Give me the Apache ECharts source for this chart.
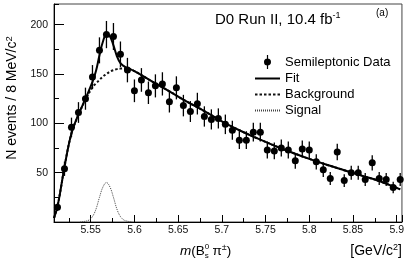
<!DOCTYPE html>
<html><head><meta charset="utf-8">
<script src="https://cdn.jsdelivr.net/npm/echarts@6/dist/echarts.min.js"></script>
<style>html,body{margin:0;padding:0;background:#fff}#c{width:407px;height:261px}</style>
</head><body><div id="c"></div>
<script>
// Data
const massBins = [5.512,5.520,5.528,5.536,5.544,5.552,5.560,5.568,5.576,5.584,
  5.592,5.600,5.608,5.616,5.624,5.632,5.640,5.648,5.656,5.664,
  5.672,5.680,5.688,5.696,5.704,5.712,5.720,5.728,5.736,5.744,
  5.752,5.760,5.768,5.776,5.784,5.792,5.800,5.808,5.816,5.824,
  5.832,5.840,5.848,5.856,5.864,5.872,5.880,5.888,5.896,5.904];
const counts = [15,54,96,111,125,147,174,190,188,170,
  154,133,144,131,138,140,122,136,118,112,
  120,107,104,105,99,93,83,83,91,91,
  73,72,75,73,62,74,73,61,53,44,
  71,42,50,50,43,60,44,43,35,43];
const countErrors = [3.9,7.3,9.8,10.5,11.2,12.1,13.2,13.8,13.7,13.0,
  12.4,11.5,12.0,11.4,11.7,11.8,11.0,11.7,10.9,10.6,
  11.0,10.3,10.2,10.2,9.9,9.6,9.1,9.1,9.5,9.5,
  8.5,8.5,8.7,8.5,7.9,8.6,8.5,7.8,7.3,6.6,
  8.4,6.5,7.1,7.1,6.6,7.7,6.6,6.6,5.9,6.6];
const fitX = [5.508,5.512,5.516,5.520,5.528,5.536,5.544,5.552,5.556,5.560,5.564,5.568,5.572,5.576,5.580,5.584,5.588,5.592,5.600,5.620,5.640,5.660,5.680,5.700,5.720,5.740,5.760,5.780,5.800,5.820,5.840,5.860,5.880,5.904];
const fitY = [4,16,35,56,90,109,125,142,153,169,183,190,188,179,168,161,158,156,153,142.5,132.5,122,112.5,102,93,85,77.5,70.5,64,58,52.5,47,41.5,33];
const bkgX = [5.508,5.512,5.516,5.520,5.528,5.536,5.544,5.552,5.556,5.560,5.564,5.568,5.572,5.576,5.580,5.584,5.588,5.592,5.600,5.620,5.640,5.660,5.680,5.700,5.720,5.740,5.760,5.780,5.800,5.820,5.840,5.860,5.880,5.904];
const bkgY = [4,16,35,56,90,108.5,124,136.5,140.5,144,147.5,150,152.5,154,155,155.5,155.8,155.6,153,142.5,132.5,122,112.5,102,93,85,77.5,70.5,64,58,52.5,47,41.5,33];
const sigX = [5.538,5.544,5.548,5.552,5.556,5.560,5.564,5.568,5.572,5.576,5.580,5.584,5.588,5.592,5.598];
const sigY = [0,0.8,2,5.5,13,25,35.5,40,35.5,25,13,5.5,2,0.8,0];

const FONT = 'Liberation Sans';
const chart = echarts.init(document.getElementById('c'), null, {renderer: 'canvas'});
const pairs = (xs, ys) => xs.map((x, i) => [x, ys[i]]);

chart.setOption({
  animation: false,
  backgroundColor: '#fff',
  grid: {left: 54, right: 5, top: 4, bottom: 39, show: true, borderColor: '#444', borderWidth: 1, backgroundColor: 'transparent'},
  xAxis: {
    type: 'value', min: 5.508, max: 5.906, splitNumber: 8,
    axisLine: {show: true, onZero: false, lineStyle: {color: '#000', width: 1}},
    axisTick: {show: true, inside: true, length: 7, lineStyle: {color: '#000'}},
    minorTick: {show: true, splitNumber: 2, length: 4, lineStyle: {color: '#000'}},
    axisLabel: {showMinLabel: false, showMaxLabel: false, fontSize: 10.5, color: '#111', fontFamily: FONT, margin: 3},
    splitLine: {show: false}
  },
  yAxis: [{
    type: 'value', min: 0, max: 221, interval: 50,
    axisLine: {show: true, lineStyle: {color: '#000', width: 1}},
    axisTick: {show: true, inside: true, length: 10, lineStyle: {color: '#000'}},
    axisLabel: {showMinLabel: false, showMaxLabel: false, fontSize: 10.5, color: '#111', fontFamily: FONT, margin: 6},
    splitLine: {show: false}
  }, {
    type: 'value', min: 0, max: 221, interval: 25, position: 'left',
    axisLine: {show: false},
    axisTick: {show: true, inside: true, length: 5, lineStyle: {color: '#000'}},
    axisLabel: {show: false},
    splitLine: {show: false}
  }],
  legend: {
    orient: 'vertical', left: 249, top: 50, itemWidth: 25, itemHeight: 14, itemGap: 3,
    textStyle: {fontSize: 13, color: '#000', fontFamily: FONT},
    itemStyle: {opacity: 0},
    data: [
      {name: 'Semileptonic Data', icon: 'path://M12.4,0H13.6V14H12.4ZM13,3.5A3.5,3.5,0,1,1,12.99,3.5Z', itemStyle: {opacity: 1, color: '#000'}},
      {name: 'Fit'}, {name: 'Background'}, {name: 'Signal'}
    ]
  },
  graphic: [
    {type: 'text', left: 215, top: 11, style: {text: 'D0 Run II, 10.4 fb{sup|-1}', font: '15px ' + FONT, fill: '#000',
      rich: {sup: {fontSize: 9, verticalAlign: 'top', lineHeight: 17}}}},
    {type: 'text', left: 376, top: 8, style: {text: '(a)', font: '10px ' + FONT, fill: '#000'}},
    {type: 'text', x: 12.5, y: 98, rotation: Math.PI / 2,
      style: {text: 'N events / 8 MeV/c{sup|2}', font: '14px ' + FONT, fill: '#000', align: 'center', verticalAlign: 'middle',
        rich: {sup: {fontSize: 9.5, verticalAlign: 'top', lineHeight: 17}}}},
    {type: 'text', left: 180, top: 243, style: {text: '{it|m}(B{s0|0}{s1|s} π{sup|±})', font: '13.5px ' + FONT, fill: '#000',
      rich: {it: {fontStyle: 'italic', fontSize: 13.5}, s0: {fontSize: 8, verticalAlign: 'top', lineHeight: 17, width: 0}, s1: {fontSize: 8, verticalAlign: 'bottom', lineHeight: 17}, sup: {fontSize: 9, verticalAlign: 'top', lineHeight: 17}}}},
    {type: 'text', right: 5, top: 243, style: {text: '[GeV/c{sup|2}]', font: '14px ' + FONT, fill: '#000',
      rich: {sup: {fontSize: 9, verticalAlign: 'top', lineHeight: 17}}}}
  ],
  series: [
    {name: 'Fit', type: 'line', data: pairs(fitX, fitY), smooth: 0.4, symbol: 'none', showSymbol: false,
      lineStyle: {color: '#000', width: 2}, itemStyle: {color: '#000'}, z: 4},
    {name: 'Background', type: 'line', data: pairs(bkgX, bkgY), smooth: 0.4, symbol: 'none', showSymbol: false,
      lineStyle: {color: '#111', width: 2, type: [2.5, 2]}, itemStyle: {color: '#111'}, z: 3},
    {name: 'Signal', type: 'line', data: pairs(sigX, sigY), smooth: 0.4, symbol: 'none', showSymbol: false,
      lineStyle: {color: '#444', width: 1, type: [1, 1]}, itemStyle: {color: '#444'}, z: 3},
    {name: 'errors', type: 'custom', z: 5,
      data: massBins.map((x, i) => [x, counts[i] - countErrors[i], counts[i] + countErrors[i]]),
      renderItem: (params, api) => {
        const p0 = api.coord([api.value(0), api.value(1)]);
        const p1 = api.coord([api.value(0), api.value(2)]);
        return {type: 'line', shape: {x1: p0[0], y1: p0[1], x2: p1[0], y2: p1[1]}, style: {stroke: '#000', lineWidth: 1.3}};
      }},
    {name: 'Semileptonic Data', type: 'scatter', data: pairs(massBins, counts), symbol: 'circle', symbolSize: 7,
      itemStyle: {color: '#000', opacity: 1}, z: 6}
  ]
});
</script></body></html>
